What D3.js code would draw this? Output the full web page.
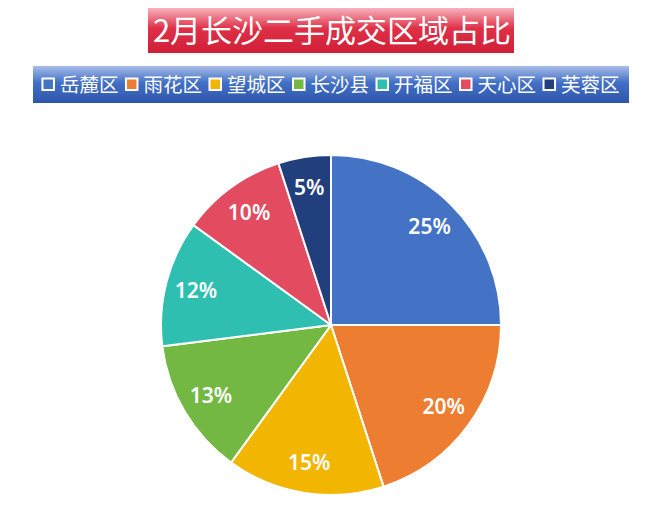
<!DOCTYPE html>
<html><head><meta charset="utf-8">
<script src="https://cdn.jsdelivr.net/npm/d3@7/dist/d3.min.js"></script>
<style>html,body{margin:0;padding:0;background:#fff;}svg{display:block;}</style>
</head><body>
<script>
const title = "2月长沙二手成交区域占比";
const categories = ["岳麓区","雨花区","望城区","长沙县","开福区","天心区","芙蓉区"];
const values = [25, 20, 15, 13, 12, 10, 5];
const colors = ["#4472C4","#ED7D31","#F2B500","#72B843","#2EBFB1","#E34B61","#223F7D"];

const W = 667, H = 509;
const svg = d3.select("body").append("svg").attr("width", W).attr("height", H);
const defs = svg.append("defs");

const tg = defs.append("linearGradient").attr("id","tg").attr("x1",0).attr("y1",0).attr("x2",0).attr("y2",1);
tg.append("stop").attr("offset","0%").attr("stop-color","#f6b3bd");
tg.append("stop").attr("offset","45%").attr("stop-color","#e03048");
tg.append("stop").attr("offset","100%").attr("stop-color","#cf1f37");

const lg = defs.append("linearGradient").attr("id","lg").attr("x1",0).attr("y1",0).attr("x2",0).attr("y2",1);
lg.append("stop").attr("offset","0%").attr("stop-color","#a9bde8");
lg.append("stop").attr("offset","45%").attr("stop-color","#4270c6");
lg.append("stop").attr("offset","100%").attr("stop-color","#2d56aa");

// Title box
svg.append("rect").attr("x",148).attr("y",8).attr("width",366).attr("height",45).attr("fill","url(#tg)");
svg.append("text").attr("x",332).attr("y",42).attr("text-anchor","middle")
  .attr("fill","#fff").attr("font-family","'Noto Sans CJK SC', sans-serif").attr("font-size",31)
  .text(title);

// Legend bar
svg.append("rect").attr("x",33).attr("y",66).attr("width",596).attr("height",37).attr("fill","url(#lg)");
const fontLeg = "'Noto Sans CJK SC', sans-serif";
const legG = svg.append("g");
let lx = 40;
categories.forEach((c,i)=>{
  legG.append("rect").attr("x",lx).attr("y",78.5).attr("width",11.5).attr("height",11.5)
    .attr("fill",colors[i]).attr("stroke","#fff").attr("stroke-width",2);
  const t = legG.append("text").attr("x",lx+17.5).attr("y",92).attr("fill","#fff")
    .attr("font-family",fontLeg).attr("font-size",19.5).text(c);
  lx += 17.5 + t.node().getComputedTextLength() + 7.5;
});
const legW = lx - 7.5 - 40;
legG.attr("transform", `translate(${(33+596/2) - (40+legW/2)},0)`);

// Pie
const cx = 331, cy = 325, R = 170;
const pie = d3.pie().sort(null).value(d=>d)(values);
const arc = d3.arc().innerRadius(0).outerRadius(R);
const labelArc = d3.arc().innerRadius(R*0.82).outerRadius(R*0.82);
const g = svg.append("g").attr("transform",`translate(${cx},${cy})`);
g.selectAll("path").data(pie).join("path")
  .attr("d",arc).attr("fill",(d,i)=>colors[i]).attr("stroke","#fff").attr("stroke-width",2);
g.selectAll("text").data(pie).join("text")
  .attr("transform",d=>{const p=labelArc.centroid(d);return `translate(${p[0]},${p[1]})`;})
  .attr("text-anchor","middle").attr("dy","0.35em")
  .attr("fill","#fff").attr("font-family","'Noto Sans', sans-serif").attr("font-size",21).attr("font-weight",600)
  .text(d=>d.data+"%");
</script>
</body></html>
